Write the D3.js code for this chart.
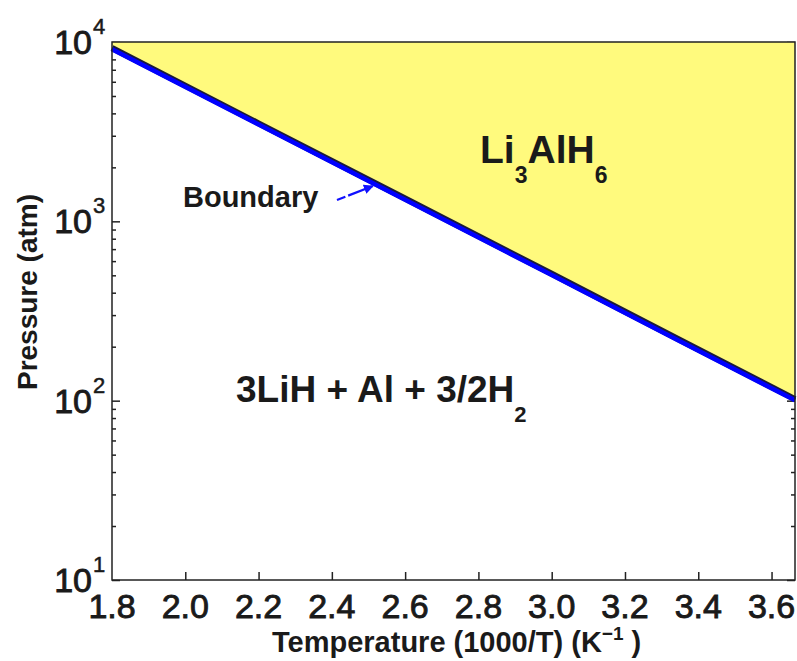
<!doctype html>
<html lang="en">
<head>
  <meta charset="UTF-8">
  <script src="https://cdn.jsdelivr.net/npm/d3@7"></script>
  <title>Li3AlH6 boundary</title>
  <style>
    body{ margin:0; background:#fff; }
    svg text{ font-family:"Liberation Sans", Arial, Helvetica, sans-serif; fill:#1a1a1a; }
    .tick line{ stroke:#222; stroke-width:1.5; }
    .tick text{ display:none; }
  </style>
</head>
<body>
  <div class="chart"></div>
  <script>
    // boundary line, x = 1000/T (K^-1), y = pressure (atm)
    const invTemp = [1.8, 2.2, 2.6, 3.0, 3.35, 3.664];
    const pressure = [9260, 3520, 1340, 510, 218, 102];
    const xTicks = [1.8, 2.0, 2.2, 2.4, 2.6, 2.8, 3.0, 3.2, 3.4, 3.6];
    const yDecades = [1, 2, 3, 4];
    // arrow pointing at the boundary (data units)
    const arrowFrom = [2.414, 1315];
    const arrowTo = [2.512, 1574];

    const W = 797, H = 661;
    const margin = { top: 42, right: 2, bottom: 81, left: 112 };
    const width = W - margin.left - margin.right, height = H - margin.top - margin.bottom;

    const root = d3.select('.chart').append('svg').attr('width', W).attr('height', H);
    const svg = root.append('g').attr('transform', `translate(${margin.left} ${margin.top})`);

    const x = d3.scaleLinear().domain([1.8, 3.664]).range([0, width]);
    const y = d3.scaleLog().domain([10, 10000]).range([height, 0]);

    const majors = yDecades.map(d => Math.pow(10, d));
    const minors = [];
    yDecades.slice(0, -1).forEach(d => { for (let k = 2; k <= 9; k++) minors.push(k * Math.pow(10, d)); });

    // ticks (drawn first so the fill hides those in the yellow area)
    svg.append('g').call(d3.axisLeft(y).tickValues(majors).tickSize(-8)).call(g => g.select('.domain').remove());
    svg.append('g').call(d3.axisLeft(y).tickValues(minors).tickSize(-4)).call(g => g.select('.domain').remove());
    svg.append('g').attr('transform', `translate(${width},0)`)
      .call(d3.axisRight(y).tickValues(majors).tickSize(-8)).call(g => g.select('.domain').remove());
    svg.append('g').attr('transform', `translate(${width},0)`)
      .call(d3.axisRight(y).tickValues(minors).tickSize(-4)).call(g => g.select('.domain').remove());
    svg.append('g').attr('transform', `translate(0,${height})`)
      .call(d3.axisBottom(x).tickValues(xTicks.slice(1)).tickSize(-8)).call(g => g.select('.domain').remove());

    const pts = invTemp.map((t, i) => [t, pressure[i]]);

    // Li3AlH6 region above the boundary
    const area = d3.area().x(d => x(d[0])).y0(0).y1(d => y(d[1]));
    svg.append('path').datum(pts).attr('d', area).attr('fill', '#fffa7d');

    const line = d3.line().x(d => x(d[0])).y(d => y(d[1]));
    svg.append('path').datum(pts).attr('d', line)
      .attr('fill', 'none').attr('stroke', '#1a1a3a').attr('stroke-width', 6);
    svg.append('path').datum(pts).attr('d', line).attr('transform', 'translate(0,1.2)')
      .attr('fill', 'none').attr('stroke', '#0000ff').attr('stroke-width', 4.6);

    // frame
    svg.append('rect').attr('width', width).attr('height', height)
      .attr('fill', 'none').attr('stroke', '#222').attr('stroke-width', 1.5);

    // tick labels
    svg.append('g').selectAll('text').data(xTicks).join('text')
      .attr('x', d => x(d)).attr('y', height + 38)
      .attr('text-anchor', 'middle').attr('font-size', 34)
      .attr('stroke', '#1a1a1a').attr('stroke-width', 0.9)
      .text(d => d.toFixed(1));

    const yl = svg.append('g').selectAll('g').data(yDecades).join('g')
      .attr('transform', d => `translate(0,${y(Math.pow(10, d))})`);
    yl.append('text').attr('x', -20).attr('y', 12).attr('text-anchor', 'end')
      .attr('font-size', 34).attr('stroke', '#1a1a1a').attr('stroke-width', 0.9).text('10');
    yl.append('text').attr('x', -19).attr('y', -8).attr('font-size', 22)
      .attr('stroke', '#1a1a1a').attr('stroke-width', 0.5).text(d => d);

    // axis titles
    root.append('text').attr('transform', 'translate(37,292) rotate(-90)')
      .attr('text-anchor', 'middle').attr('font-size', 28).attr('font-weight', 'bold')
      .text('Pressure (atm)');

    const xt = root.append('text').attr('x', 272).attr('y', 652)
      .attr('font-size', 29).attr('font-weight', 'bold');
    xt.append('tspan').text('Temperature (1000/T) (K');
    xt.append('tspan').attr('dy', -12).attr('font-size', 19).text('\u22121');
    xt.append('tspan').attr('dy', 12).text(' )');

    // region labels
    const li = root.append('text').attr('x', 480).attr('y', 163)
      .attr('font-size', 39).attr('font-weight', 'bold');
    li.append('tspan').text('Li');
    li.append('tspan').attr('dy', 20).attr('font-size', 23).text('3');
    li.append('tspan').attr('dy', -20).text('AlH');
    li.append('tspan').attr('dy', 20).attr('font-size', 23).text('6');

    const lo = root.append('text').attr('x', 236).attr('y', 402)
      .attr('font-size', 37).attr('font-weight', 'bold');
    lo.append('tspan').text('3LiH + Al + 3/2H');
    lo.append('tspan').attr('dy', 20).attr('font-size', 22).text('2');

    root.append('text').attr('x', 183).attr('y', 207)
      .attr('font-size', 29).attr('font-weight', 'bold').attr('fill', '#333')
      .text('Boundary');

    // arrow
    root.append('defs').append('marker').attr('id', 'head')
      .attr('viewBox', '0 0 10 10').attr('refX', 9).attr('refY', 5)
      .attr('markerWidth', 4.5).attr('markerHeight', 4.5).attr('orient', 'auto')
      .append('path').attr('d', 'M0,0L10,5L0,10z').attr('fill', '#1010ff');
    svg.append('line')
      .attr('x1', x(arrowFrom[0])).attr('y1', y(arrowFrom[1]))
      .attr('x2', x(arrowTo[0])).attr('y2', y(arrowTo[1]))
      .attr('stroke', '#1010ff').attr('stroke-width', 2.2)
      .attr('stroke-dasharray', '9,3,30').attr('marker-end', 'url(#head)');
  </script>
</body>
</html>
